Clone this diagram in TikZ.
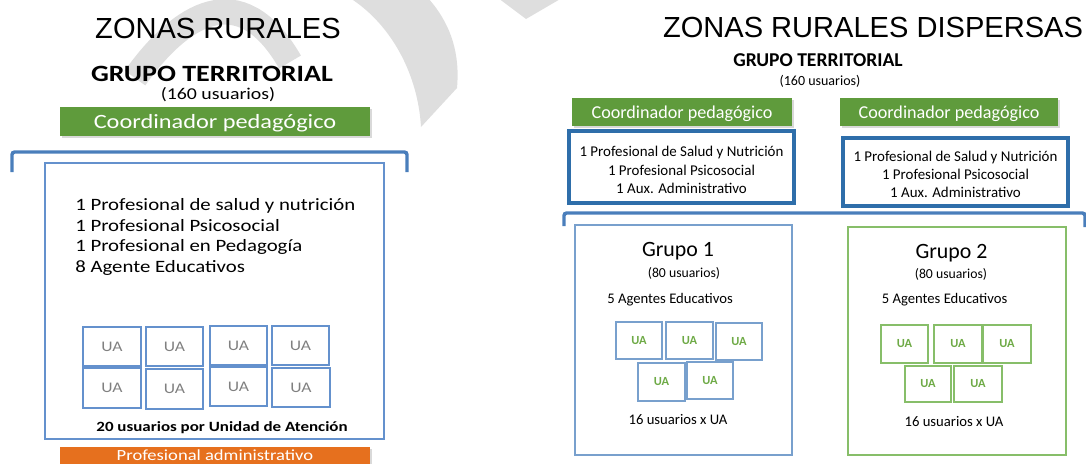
\documentclass[tikz,border=0pt]{standalone}
\usepackage{fontspec}
\setmainfont{Carlito}
\newfontfamily\arialf{Liberation Sans}
\newfontfamily\anchaf[FakeStretch=1.2]{Carlito}
\usetikzlibrary{shadows}
\definecolor{marca}{RGB}{222,222,222}
\definecolor{verdecoord}{RGB}{95,155,60}
\definecolor{naranja}{RGB}{230,112,30}
\definecolor{azulllave}{RGB}{74,126,187}
\definecolor{azulcaja}{RGB}{100,145,205}
\definecolor{azuloscuro}{RGB}{46,110,170}
\definecolor{azulgrupo}{RGB}{120,160,205}
\definecolor{verdegrupo}{RGB}{135,190,105}
\definecolor{verdeua}{RGB}{110,170,70}
\newcommand{\tam}[1]{\fontsize{#1}{#1}\selectfont}
\begin{document}
\begin{tikzpicture}[x=0.75pt,y=-0.75pt,
  texto/.style={inner sep=0pt,anchor=base},
  sombra/.style={drop shadow={opacity=0.3,shadow xshift=1.2pt,shadow yshift=-1.2pt}}]
\useasboundingbox (0,0) rectangle (1086,464);
\clip (0,0) rectangle (1086,464);
% marca de agua
\draw[marca,line width=19pt] (135,78) .. controls (180,15) and (240,-25) .. (290,62);
\fill[marca] (350,-2) .. controls (392,25) and (418,75) .. (421,127) -- (457,88) .. controls (460,55) and (452,25) .. (428,-2) -- cycle;
\fill[marca] (498,-2) -- (562,-2) -- (526,19) -- cycle;
% ZONAS RURALES
\node[texto] (titulo1) at (218,38) {\arialf\tam{21.8}ZONAS RURALES};
\node[texto] (grupo1) at (212,81) {\anchaf\tam{17.5}\bfseries GRUPO TERRITORIAL};
\node[texto] (usuarios1) at (218,99.5) {\anchaf\tam{12.4}(160 usuarios)};
\draw [fill=verdecoord,draw=none,sombra] (60,107) rectangle (370,136);
\node[texto] (coord0) at (215,128.5) {\anchaf\tam{15.2}\textcolor{white}{Coordinador pedagógico}};
\draw [azulllave,line width=2.6pt,rounded corners=2pt] (12,172) -- (12,152) -- (407,152) -- (407,172);
\draw [azulcaja,line width=1.1pt] (45,163) rectangle (384,439);
\node[texto,anchor=base west] (linea1) at (75,210.5) {\anchaf\tam{13}1 Profesional de salud y nutrición};
\node[texto,anchor=base west] (linea2) at (75,231) {\anchaf\tam{13}1 Profesional Psicosocial};
\node[texto,anchor=base west] (linea3) at (75,251.5) {\anchaf\tam{13}1 Profesional en Pedagogía};
\node[texto,anchor=base west] (linea4) at (75,272) {\anchaf\tam{13}8 Agente Educativos};
\draw [azulcaja,line width=1.3pt] (83,327) rectangle (141,366);
\draw [azulcaja,line width=1.3pt] (146,327) rectangle (203,366);
\draw [azulcaja,line width=1.3pt] (210,326) rectangle (267,365);
\draw [azulcaja,line width=1.3pt] (272,326) rectangle (329,365);
\draw [azulcaja,line width=1.3pt] (83,368) rectangle (141,408);
\draw [azulcaja,line width=1.3pt] (146,369) rectangle (203,409);
\draw [azulcaja,line width=1.3pt] (210,367) rectangle (267,406);
\draw [azulcaja,line width=1.3pt] (272,368) rectangle (330,407);
\node (uaA1) at (112,346.5) {\anchaf\tam{11}\textcolor{gray}{UA}};
\node (uaA2) at (174.5,346.5) {\anchaf\tam{11}\textcolor{gray}{UA}};
\node (uaA3) at (238.5,345.5) {\anchaf\tam{11}\textcolor{gray}{UA}};
\node (uaA4) at (300.5,345.5) {\anchaf\tam{11}\textcolor{gray}{UA}};
\node (uaA5) at (112,388) {\anchaf\tam{11}\textcolor{gray}{UA}};
\node (uaA6) at (174.5,389) {\anchaf\tam{11}\textcolor{gray}{UA}};
\node (uaA7) at (238.5,386.5) {\anchaf\tam{11}\textcolor{gray}{UA}};
\node (uaA8) at (301,387.5) {\anchaf\tam{11}\textcolor{gray}{UA}};
\node[texto] (porua1) at (222,431) {\anchaf\tam{10.6}\bfseries 20 usuarios por Unidad de Atención};
\draw [fill=naranja,draw=none,sombra] (60,447) rectangle (370,478);
\node[texto] (admin) at (215,460.5) {\anchaf\tam{11.6}\textcolor{white}{Profesional administrativo}};
% ZONAS RURALES DISPERSAS
\node[texto] (titulo2) at (873,37) {\arialf\tam{21.8}ZONAS RURALES DISPERSAS};
\node[texto] (grupo2) at (818,66) {\tam{14.7}\bfseries GRUPO TERRITORIAL};
\node[texto] (usuarios2) at (820,85) {\tam{10.5}(160 usuarios)};
\draw [fill=verdecoord,draw=none,sombra] (572,98) rectangle (792,126);
\draw [fill=verdecoord,draw=none,sombra] (840,98) rectangle (1058,126);
\node[texto] (coord1) at (682,118) {\tam{13.6}\textcolor{white}{Coordinador pedagógico}};
\node[texto] (coord2) at (949,118) {\tam{13.6}\textcolor{white}{Coordinador pedagógico}};
\draw [azuloscuro,line width=2.6pt] (569,131) rectangle (794,203);
\draw [azuloscuro,line width=2.6pt] (843,138) rectangle (1068,206);
\node[texto] (equipo1a) at (681.5,156) {\tam{11.2}1 Profesional de Salud y Nutrición};
\node[texto] (equipo1b) at (681.5,175) {\tam{11.2}1 Profesional Psicosocial};
\node[texto] (equipo1c) at (681.5,193) {\tam{11.2}1 Aux. Administrativo};
\node[texto] (equipo2a) at (955.5,161) {\tam{11.2}1 Profesional de Salud y Nutrición};
\node[texto] (equipo2b) at (955.5,179) {\tam{11.2}1 Profesional Psicosocial};
\node[texto] (equipo2c) at (955.5,197) {\tam{11.2}1 Aux. Administrativo};
\draw [azulllave,line width=2.6pt,rounded corners=2pt] (564,226) -- (564,213) -- (1085,213) -- (1085,227);
% Grupo 1
\draw [azulgrupo,line width=1.1pt] (575,225) rectangle (792,455);
\node[texto] (g1) at (678,256) {\tam{16.4}Grupo 1};
\node[texto] (g1usu) at (684,277) {\tam{10.3}(80 usuarios)};
\node[texto] (g1age) at (670,303) {\tam{11}5 Agentes Educativos};
\draw [azulgrupo,line width=1.1pt] (616,322) rectangle (662,359);
\draw [azulgrupo,line width=1.1pt] (666,322) rectangle (713,359);
\draw [azulgrupo,line width=1.1pt] (716,323) rectangle (762,360);
\draw [azulgrupo,line width=1.1pt] (638,363) rectangle (685,401);
\draw [azulgrupo,line width=1.1pt] (687,362) rectangle (733,399);
\node (uaB1) at (639,340.5) {\tam{9.3}\bfseries\textcolor{verdeua}{UA}};
\node (uaB2) at (689.5,340.5) {\tam{9.3}\bfseries\textcolor{verdeua}{UA}};
\node (uaB3) at (739,341.5) {\tam{9.3}\bfseries\textcolor{verdeua}{UA}};
\node (uaB4) at (661.5,382) {\tam{9.3}\bfseries\textcolor{verdeua}{UA}};
\node (uaB5) at (710,380.5) {\tam{9.3}\bfseries\textcolor{verdeua}{UA}};
\node[texto] (g1ua) at (678,424) {\tam{11}16 usuarios x UA};
% Grupo 2
\draw [verdegrupo,line width=1.1pt] (848,227) rectangle (1066,455);
\node[texto] (g2) at (951.5,258) {\tam{16.4}Grupo 2};
\node[texto] (g2usu) at (951,278) {\tam{10.3}(80 usuarios)};
\node[texto] (g2age) at (944.5,303) {\tam{11}5 Agentes Educativos};
\draw [verdegrupo,line width=1.1pt] (881,325) rectangle (928,363);
\draw [verdegrupo,line width=1.1pt] (934,325) rectangle (982,363);
\draw [verdegrupo,line width=1.1pt] (983,325) rectangle (1031,363);
\draw [verdegrupo,line width=1.1pt] (905,366) rectangle (951,402);
\draw [verdegrupo,line width=1.1pt] (954,366) rectangle (1002,402);
\node (uaC1) at (904.5,344) {\tam{9.3}\bfseries\textcolor{verdeua}{UA}};
\node (uaC2) at (958,344) {\tam{9.3}\bfseries\textcolor{verdeua}{UA}};
\node (uaC3) at (1007,344) {\tam{9.3}\bfseries\textcolor{verdeua}{UA}};
\node (uaC4) at (928,384) {\tam{9.3}\bfseries\textcolor{verdeua}{UA}};
\node (uaC5) at (978,384) {\tam{9.3}\bfseries\textcolor{verdeua}{UA}};
\node[texto] (g2ua) at (954,426) {\tam{11}16 usuarios x UA};
\end{tikzpicture}
\end{document}
